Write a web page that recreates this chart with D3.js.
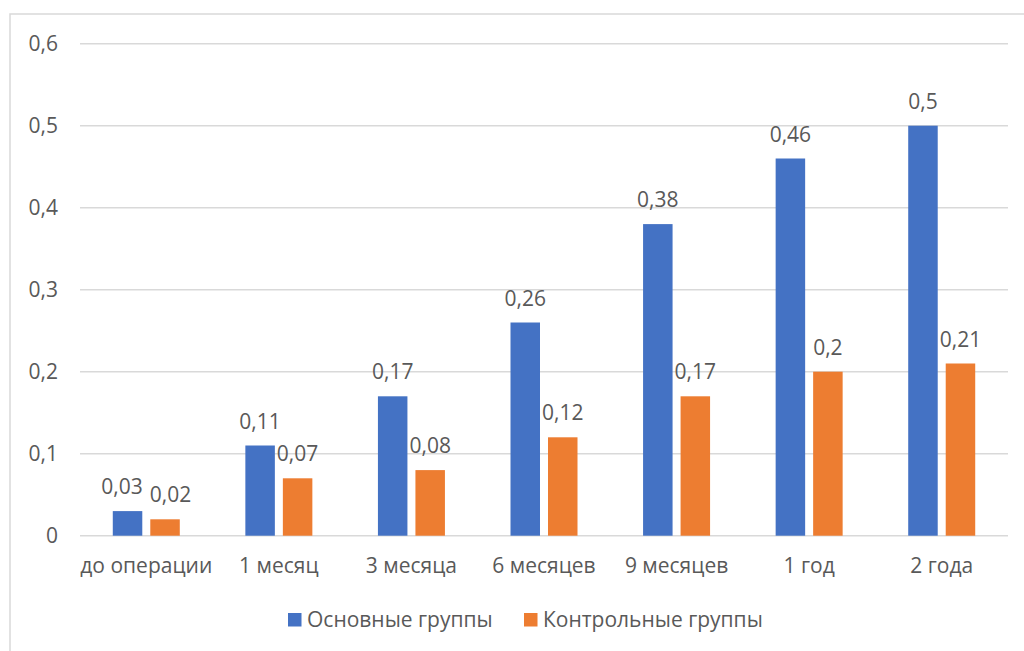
<!DOCTYPE html>
<html>
<head>
<meta charset="utf-8">
<script src="https://cdn.jsdelivr.net/npm/d3@7"></script>
<style>
  html, body { margin: 0; padding: 0; background: #fff; }
  svg { display: block; }
  text { font-family: "Open Sans", "Noto Sans", sans-serif; fill: #595959; }
</style>
</head>
<body>
<svg id="chart" width="1024" height="651"></svg>
<script>
// Периоды наблюдения
const categories = ["до операции", "1 месяц", "3 месяца", "6 месяцев", "9 месяцев", "1 год", "2 года"];
// Названия рядов
const seriesNames = ["Основные группы", "Контрольные группы"];
// Значения рядов
const mainGroup = [0.03, 0.11, 0.17, 0.26, 0.38, 0.46, 0.5];
const controlGroup = [0.02, 0.07, 0.08, 0.12, 0.17, 0.2, 0.21];
// Деления оси Y
const yTicks = [0, 0.1, 0.2, 0.3, 0.4, 0.5, 0.6];
const colors = ["#4472C4", "#ED7D31"];

const seriesValues = [mainGroup, controlGroup];
const fmt = v => String(v).replace(".", ",");
const fontSize = 21;

const svg = d3.select("#chart");

// рамка области диаграммы
svg.append("rect")
  .attr("x", 10).attr("y", 14)
  .attr("width", 1030).attr("height", 660)
  .attr("fill", "none").attr("stroke", "#d9d9d9").attr("stroke-width", 1.5);

const plotLeft = 80, plotRight = 1008, plotTop = 43.7, plotBottom = 535.7;

const y = d3.scaleLinear().domain([0, 0.6]).range([plotBottom, plotTop]);
const x = d3.scaleBand().domain(categories).range([plotLeft, plotRight]);
const xs = d3.scaleBand().domain(seriesNames).range([-33.5, 33.5]).paddingInner(0.2133);

// сетка
svg.append("g").selectAll("line").data(yTicks).join("line")
  .attr("x1", plotLeft).attr("x2", plotRight)
  .attr("y1", d => y(d)).attr("y2", d => y(d))
  .attr("stroke", "#d9d9d9").attr("stroke-width", 1.5);

// подписи оси Y
const yAxis = d3.axisLeft(y).tickValues(yTicks).tickFormat(fmt).tickSize(0).tickPadding(0);
const gy = svg.append("g").attr("transform", "translate(58,0)").call(yAxis);
gy.select(".domain").remove();
gy.selectAll("text").attr("font-size", fontSize).attr("fill", "#595959")
  .attr("font-family", "\"Open Sans\", sans-serif");

// подписи оси X
const xAxis = d3.axisBottom(x).tickSize(0).tickPadding(0);
const gx = svg.append("g").attr("transform", `translate(0,${plotBottom + 22.5})`).call(xAxis);
gx.select(".domain").remove();
gx.selectAll("text").attr("font-size", fontSize).attr("fill", "#595959")
  .attr("font-family", "\"Open Sans\", sans-serif");

// столбцы и подписи значений
const labelNodes = [];
seriesNames.forEach((name, si) => {
  const g = svg.append("g");
  const data = categories.map((c, i) => ({ c, i, v: seriesValues[si][i] }));
  g.selectAll("rect").data(data).join("rect")
    .attr("x", d => x(d.c) + x.bandwidth() / 2 + xs(name))
    .attr("width", xs.bandwidth())
    .attr("y", d => y(d.v))
    .attr("height", d => y(0) - y(d.v))
    .attr("fill", colors[si]);
  labelNodes.push(g.selectAll("text").data(data).join("text")
    .attr("x", d => x(d.c) + x.bandwidth() / 2 + xs(name) + xs.bandwidth() / 2)
    .attr("y", d => y(d.v) - 17)
    .attr("text-anchor", "middle")
    .attr("font-size", fontSize)
    .text(d => fmt(d.v))
    .nodes());
});

// раздвигаем пересекающиеся подписи внутри одной категории
const labelGap = 7;
categories.forEach((c, i) => {
  const a = labelNodes[0][i], b = labelNodes[1][i];
  const ba = a.getBBox(), bb = b.getBBox();
  const vOverlap = ba.y < bb.y + bb.height && bb.y < ba.y + ba.height;
  const hOverlap = ba.x + ba.width + labelGap - bb.x;
  if (vOverlap && hOverlap > 0) {
    a.setAttribute("x", +a.getAttribute("x") - hOverlap / 2);
    b.setAttribute("x", +b.getAttribute("x") + hOverlap / 2);
  }
});

// легенда
const legendX = [288, 524];
const lg = svg.append("g");
seriesNames.forEach((name, si) => {
  lg.append("rect").attr("x", legendX[si]).attr("y", 613)
    .attr("width", 13.5).attr("height", 13.5).attr("fill", colors[si]);
  lg.append("text").attr("x", legendX[si] + 19).attr("y", 627)
    .attr("font-size", fontSize).text(name);
});
</script>
</body>
</html>
